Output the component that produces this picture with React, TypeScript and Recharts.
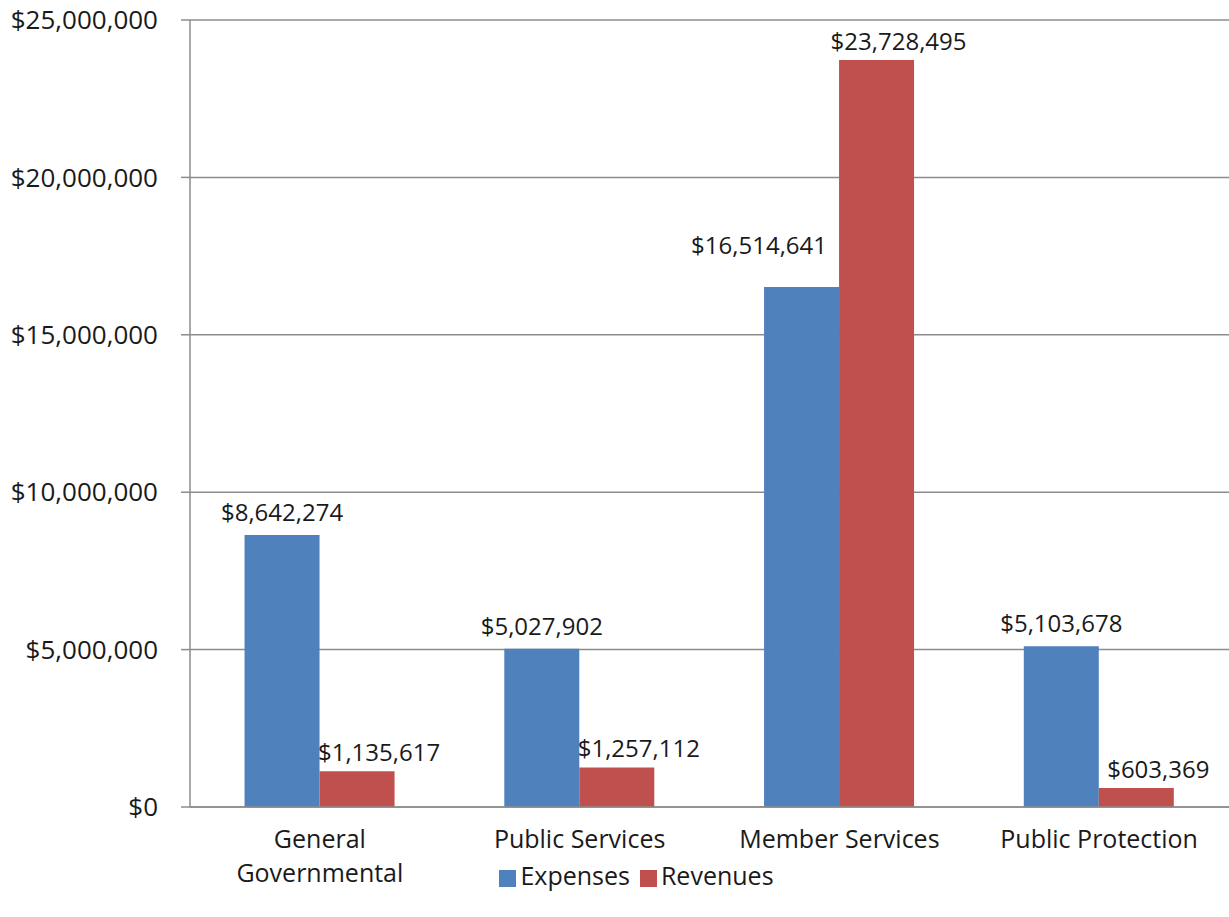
import { BarChart, Bar, XAxis, YAxis, CartesianGrid, Legend, LabelList } from "recharts";

const categories = ["General Governmental", "Public Services", "Member Services", "Public Protection"];
const expenses = [8642274, 5027902, 16514641, 5103678];
const revenues = [1135617, 1257112, 23728495, 603369];
const yTicks = [0, 5000000, 10000000, 15000000, 20000000, 25000000];
const edgeTicks = [0, 1, 2, 3, 4];

const data = categories.map((name, i) => ({
    name,
    Expenses: expenses[i],
    Revenues: revenues[i],
}));

const FONT = "'Century Gothic', 'Open Sans', sans-serif";
const AXIS = "#8c8c8c";
const INK = "#1a1a1a";
const money = (v: number) => "$" + Number(v).toLocaleString("en-US");

// greedy word wrap by character count
function wrap(label: string, maxChars: number) {
    const lines: string[] = [];
    let cur = "";
    for (const w of label.split(" ")) {
        const next = cur ? cur + " " + w : w;
        if (next.length > maxChars && cur) {
            lines.push(cur);
            cur = w;
        } else {
            cur = next;
        }
    }
    if (cur) lines.push(cur);
    return lines;
}

function CategoryTick(props: any) {
    const { x, y, payload } = props;
    const lines = wrap(String(payload.value), 18);
    return (
        <text
            x={x}
            y={y + 41}
            textAnchor="middle"
            fontSize={25}
            fontFamily={FONT}
            fill={INK}
        >
            {lines.map((line, i) => (
                <tspan key={i} x={x} dy={i === 0 ? 0 : 34}>
                    {line}
                </tspan>
            ))}
        </text>
    );
}

// expense labels: centred over the bar, but pulled left and up
// when the revenue bar beside it is taller
function ExpenseLabel(props: any) {
    const { x, y, width, value, index } = props;
    const blocked = revenues[index] > expenses[index];
    return (
        <text
            x={blocked ? x + width - 12 : x + width / 2}
            y={blocked ? y - 33 : y - 14}
            textAnchor={blocked ? "end" : "middle"}
            fontSize={24}
            fontFamily={FONT}
            fill={INK}
        >
            {money(value)}
        </text>
    );
}

export default function App() {
    return (
        <div style={{ position: "absolute", left: 0, top: 0, background: "#fff" }}>
            <BarChart
                width={1229}
                height={917}
                data={data}
                margin={{ top: 20, right: 0, left: 0, bottom: 28 }}
                barCategoryGap="21%"
                barGap={0}
            >
                <CartesianGrid vertical={false} stroke={AXIS} strokeWidth={1.5} />
                <XAxis
                    xAxisId="edges"
                    type="number"
                    domain={[0, 4]}
                    ticks={edgeTicks}
                    height={0}
                    axisLine={false}
                    tick={false}
                    tickLine={{ stroke: AXIS, strokeWidth: 1.5 }}
                    tickSize={8}
                />
                <XAxis
                    dataKey="name"
                    height={54}
                    interval={0}
                    tick={<CategoryTick />}
                    tickLine={false}
                    tickSize={0}
                    tickMargin={0}
                    axisLine={{ stroke: AXIS, strokeWidth: 1.5 }}
                />
                <YAxis
                    width={190}
                    domain={[0, 25000000]}
                    ticks={yTicks}
                    tickFormatter={money}
                    tick={{ fontSize: 26, fontFamily: FONT, fill: INK }}
                    tickSize={9}
                    tickMargin={23}
                    axisLine={{ stroke: AXIS, strokeWidth: 1.5 }}
                    tickLine={{ stroke: AXIS, strokeWidth: 1.5 }}
                />
                <Legend
                    iconType="square"
                    iconSize={17}
                    wrapperStyle={{
                        left: 27,
                        height: 28,
                        lineHeight: "28px",
                        fontSize: 25,
                        fontFamily: FONT,
                    }}
                    formatter={(value: string) => <span style={{ color: INK }}>{value}</span>}
                />
                <Bar dataKey="Expenses" fill="#4F81BD" isAnimationActive={false}>
                    <LabelList dataKey="Expenses" content={<ExpenseLabel />} />
                </Bar>
                <Bar dataKey="Revenues" fill="#C0504D" isAnimationActive={false}>
                    <LabelList
                        dataKey="Revenues"
                        position="top"
                        offset={10}
                        dx={22}
                        formatter={money}
                        style={{ fontSize: 24, fontFamily: FONT, fill: INK }}
                    />
                </Bar>
            </BarChart>
        </div>
    );
}
